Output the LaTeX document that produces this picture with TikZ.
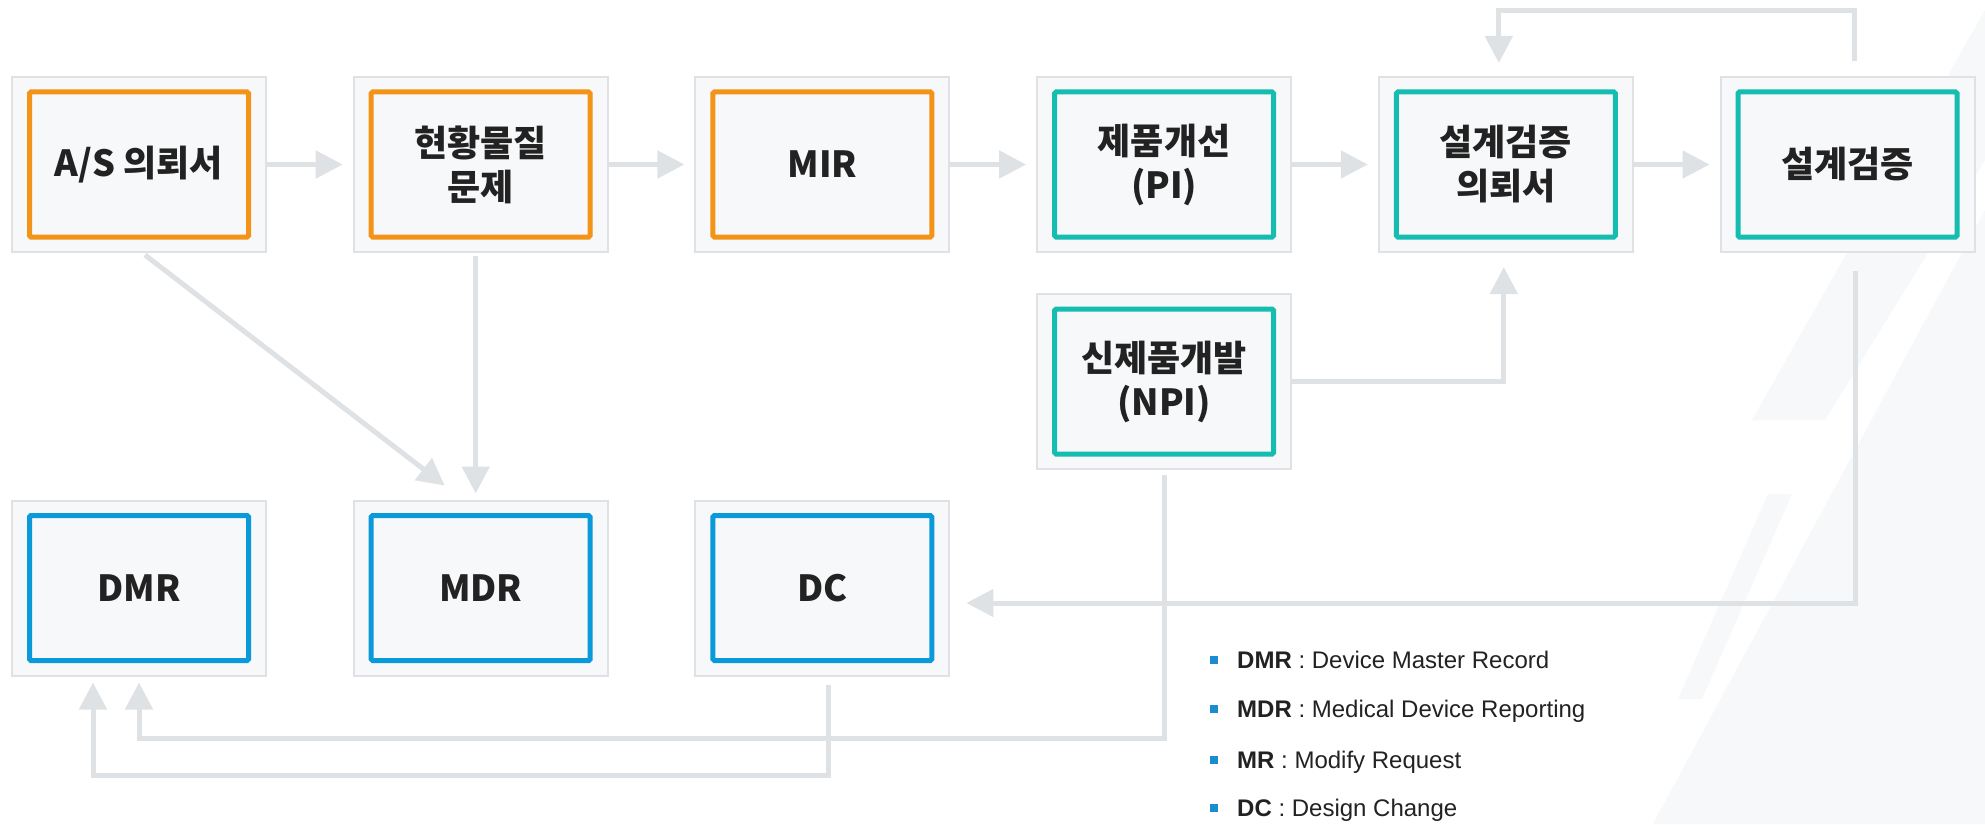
\documentclass[tikz,border=0pt]{standalone}
\usepackage{fontspec}
\setmainfont{Liberation Sans}
\newfontfamily\kr{Noto Sans CJK KR}
\usetikzlibrary{arrows.meta,calc}

\definecolor{boxfill}{HTML}{F7F8FA}
\definecolor{boxline}{HTML}{DFE1E4}
\definecolor{arrowgray}{HTML}{DFE2E5}
\definecolor{cOrange}{HTML}{F39317}
\definecolor{cTeal}{HTML}{14BDAF}
\definecolor{cBlue}{HTML}{0A9AD9}
\definecolor{txt}{HTML}{222222}
\definecolor{bul}{HTML}{1A8CCF}
\definecolor{bgstripe}{HTML}{F7F8FA}

\tikzset{
  outerbox/.style={draw=boxline, line width=2pt, fill=boxfill,
    minimum width=254pt, minimum height=175pt, inner sep=0pt},
  innerbox/.style={draw=#1, line width=5pt, fill=boxfill,
    minimum width=219pt, minimum height=145pt, inner sep=0pt,
    rounded corners=1.5pt, align=center, text=txt,
    font=\kr\bfseries\fontsize{36}{44}\selectfont},
  conn/.style={draw=arrowgray, line width=5pt},
  arr/.style={conn, -{Triangle[length=27pt,width=27pt]}},
  bulletbox/.style={fill=bul, minimum width=8pt, minimum height=8pt, inner sep=0pt},
  legend/.style={anchor=base west, inner sep=0pt, text=txt,
    font=\fontsize{24}{28}\selectfont},
}

\begin{document}
\begin{tikzpicture}[x=1pt, y=-1pt]
\useasboundingbox (0,0) rectangle (1985,824);
\fill[white] (0,0) rectangle (1985,824);

% faint background stripes
\fill[bgstripe] (1752,420) -- (1985,10) -- (1985,160) -- (1825,420) -- cycle;
\fill[bgstripe] (1985,210) -- (1985,824) -- (1653,824) -- cycle;
\fill[bgstripe] (1768,494) -- (1792,494) -- (1702,699) -- (1678,699) -- cycle;

% top row
\node[outerbox] (as) at (139,164.5) {};
\node[innerbox=cOrange] (as-i) at (as.center) {A/S 의뢰서};
\node[outerbox] (hw) at (480.7,164.5) {};
\node[innerbox=cOrange] (hw-i) at (hw.center) {현황물질\\문제};
\node[outerbox] (mir) at (822.4,164.5) {};
\node[innerbox=cOrange] (mir-i) at (mir.center) {MIR};
\node[outerbox] (pi) at (1164.1,164.5) {};
\node[innerbox=cTeal] (pi-i) at (pi.center) {제품개선\\(PI)};
\node[outerbox] (dvr) at (1505.8,164.5) {};
\node[innerbox=cTeal] (dvr-i) at (dvr.center) {설계검증\\의뢰서};
\node[outerbox] (dv) at (1847.5,164.5) {};
\node[innerbox=cTeal] (dv-i) at (dv.center) {설계검증};

% middle
\node[outerbox] (npi) at (1164.1,381.5) {};
\node[innerbox=cTeal] (npi-i) at (npi.center) {신제품개발\\(NPI)};

% bottom row
\node[outerbox] (dmr) at (139,588) {};
\node[innerbox=cBlue] (dmr-i) at (dmr.center) {DMR};
\node[outerbox] (mdr) at (480.7,588) {};
\node[innerbox=cBlue] (mdr-i) at (mdr.center) {MDR};
\node[outerbox] (dc) at (822.4,588) {};
\node[innerbox=cBlue] (dc-i) at (dc.center) {DC};

% top row arrows
\draw[arr] (as.east) -- ($(hw.west)+(-10,0)$);
\draw[arr] (hw.east) -- ($(mir.west)+(-10,0)$);
\draw[arr] (mir.east) -- ($(pi.west)+(-10,0)$);
\draw[arr] (pi.east) -- ($(dvr.west)+(-10,0)$);
\draw[arr] (dvr.east) -- ($(dv.west)+(-10,0)$);

% feedback loop on top
\draw[arr] ($(dv.north)+(7,-15)$) -- ($(dv.north)+(7,-65)$) -| ($(dvr.north)+(-7,-13)$);

% NPI to design verification request
\draw[arr] (npi.east) -| ($(dvr.south)+(-2,14)$);

% to MDR
\draw[arr] ($(as.south)+(6,2)$) -- ($(mdr.north)+(-36,-14)$);
\draw[arr] ($(hw.south)+(-5,3)$) -- ($(mdr.north)+(-5,-6)$);

% design verification to DC
\draw[arr] ($(dv.south)+(8,18)$) |- ($(dc.east)+(16,15)$);

% NPI to DMR
\draw[arr] ($(npi.south)+(0,5)$) |- ($(dmr.south)+(0,62)$) -- ($(dmr.south)+(0,6)$);

% DC to DMR
\draw[arr] ($(dc.south)+(6,8)$) |- ($(dmr.south)+(-46,99)$) -- ($(dmr.south)+(-46,6)$);

% legend
\node[bulletbox] (b1) at (1213.5,660) {};
\node[legend] (l1) at (1237,668.5) {\textbf{DMR} : Device Master Record};
\node[bulletbox] (b2) at (1213.5,709) {};
\node[legend] (l2) at (1237,717.5) {\textbf{MDR} : Medical Device Reporting};
\node[bulletbox] (b3) at (1213.5,760) {};
\node[legend] (l3) at (1237,768.5) {\textbf{MR} : Modify Request};
\node[bulletbox] (b4) at (1213.5,808) {};
\node[legend] (l4) at (1237,816.5) {\textbf{DC} : Design Change};
\end{tikzpicture}
\end{document}
